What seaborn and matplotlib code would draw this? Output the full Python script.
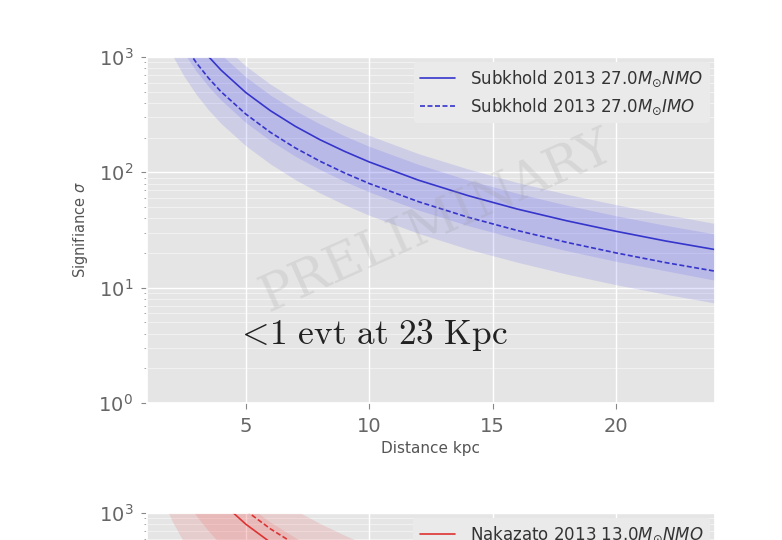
import matplotlib
matplotlib.use("Agg")
import matplotlib.pyplot as plt
import seaborn as sns
import pandas as pd
import numpy as np
from matplotlib.ticker import LogLocator, NullFormatter, FixedLocator

# ---- data ----
distance = [1.5, 2.0, 2.5, 3.0, 3.5, 4.0, 5.0, 6.0, 7.0, 8.0, 9.0, 10.0, 12.0, 14.0, 16.0, 18.0, 20.0, 22.0, 24.0]
subk_nmo = [5470, 3080, 1970, 1370, 1004, 769, 492, 342, 251, 192, 152, 123, 85.4, 62.8, 48.0, 38.0, 30.8, 25.4, 21.4]
subk_nmo_lo = [3000, 1690, 1080, 750, 552, 423, 270, 188, 138, 106, 83.5, 67.6, 47.0, 34.5, 26.4, 20.9, 16.9, 14.0, 11.6]
subk_nmo_hi = [9300, 5240, 3350, 2330, 1710, 1310, 836, 581, 427, 327, 258, 209, 145, 107, 81.6, 64.6, 52.4, 43.2, 36.0]
subk_imo = [3560, 2000, 1280, 890, 653, 500, 320, 222, 163, 125, 98.8, 80.0, 55.6, 40.8, 31.3, 24.7, 20.0, 16.5, 13.9]
subk_imo_lo = [1890, 1060, 680, 472, 346, 265, 170, 118, 86.5, 66.3, 52.4, 42.4, 29.5, 21.6, 16.6, 13.1, 10.6, 8.76, 7.36]
subk_imo_hi = [7480, 4200, 2690, 1870, 1370, 1050, 672, 467, 343, 263, 207, 168, 117, 85.7, 65.7, 51.9, 42.0, 34.7, 29.2]

naka_nmo = [8890, 5000, 3200, 2220, 1630, 1250, 800, 556, 408, 313, 247, 200, 139, 102, 78.1, 61.7, 50.0, 41.3, 34.7]
naka_nmo_lo = [1540, 865, 554, 384, 282, 216, 138, 96.1, 70.6, 54.1, 42.7, 34.6, 24.0, 17.7, 13.5, 10.7, 8.65, 7.15, 6.01]
naka_nmo_hi = [13300, 7500, 4800, 3330, 2450, 1880, 1200, 833, 612, 469, 370, 300, 208, 153, 117, 92.6, 75.0, 62.0, 52.1]
naka_imo = [11600, 6550, 4190, 2910, 2140, 1640, 1050, 728, 535, 409, 323, 262, 182, 134, 102, 80.9, 65.5, 54.1, 45.5]
naka_imo_lo = [3780, 2130, 1360, 944, 694, 531, 340, 236, 173, 133, 105, 85.0, 59.0, 43.4, 33.2, 26.2, 21.3, 17.6, 14.8]
naka_imo_hi = [23100, 13000, 8320, 5780, 4240, 3250, 2080, 1440, 1060, 813, 642, 520, 361, 265, 203, 160, 130, 107, 90.3]

xticks = [5, 10, 15, 20]
label_subk_nmo = r"Subkhold 2013 27.0$M_{\odot}NMO$"
label_subk_imo = r"Subkhold 2013 27.0$M_{\odot}IMO$"
label_naka_nmo = r"Nakazato 2013 13.0$M_{\odot}NMO$"
label_naka_imo = r"Nakazato 2013 13.0$M_{\odot}IMO$"

sns.set_theme(style="darkgrid", rc={
    "axes.facecolor": "#E5E5E5",
    "grid.color": "white",
    "xtick.color": "#666666",
    "ytick.color": "#666666",
    "xtick.bottom": True,
    "ytick.left": True,
})
plt.rcParams["font.family"] = ["DejaVu Sans"]
plt.rcParams["mathtext.fontset"] = "dejavusans"

fig = plt.figure(figsize=(7.82, 5.4), dpi=100)
W, H = 782, 540
ax1 = fig.add_axes([147 / W, 1 - 403 / H, 568 / W, 346 / H])
ax2 = fig.add_axes([147 / W, 1 - (513 + 346) / H, 568 / W, 346 / H])


def panel(ax, color, nmo, nmo_lo, nmo_hi, imo, imo_lo, imo_hi, lab_nmo, lab_imo, lw_col, visible_labels=True):
    ax.fill_between(distance, nmo_lo, nmo_hi, color=color, alpha=0.13, linewidth=0)
    ax.fill_between(distance, imo_lo, imo_hi, color=color, alpha=0.13, linewidth=0)
    df = pd.DataFrame({"d": distance * 2,
                       "s": nmo + imo,
                       "m": [lab_nmo] * len(distance) + [lab_imo] * len(distance)})
    sns.lineplot(data=df, x="d", y="s", style="m", ax=ax, color=lw_col,
                 dashes=[(None, None), (3, 1.5)], linewidth=1.2, legend=False, sort=False)
    ax.plot([], [], color=lw_col, lw=1.2, label=lab_nmo)
    ax.plot([], [], color=lw_col, lw=1.2, ls=(0, (3, 1.5)), label=lab_imo)
    ax.set_yscale("log")
    ax.set_xlim(1, 24)
    ax.set_ylim(1, 1000)
    ax.set_xticks(xticks)
    ax.yaxis.set_minor_locator(LogLocator(base=10, subs=np.arange(2, 10)))
    ax.yaxis.set_minor_formatter(NullFormatter())
    ax.grid(True, which="major", color="white", lw=1.0)
    ax.grid(True, which="minor", axis="y", color="white", lw=0.5, alpha=0.7)
    ax.tick_params(axis="both", which="major", labelsize=14, length=4, width=0.8, color="#888888", pad=6)
    ax.tick_params(axis="y", which="minor", length=2, width=0.6, color="#999999")
    if visible_labels:
        ax.set_xlabel("Distance kpc", fontsize=11, color="#555555", labelpad=4)
        ax.set_ylabel(r"Signifiance $\sigma$", fontsize=10.5, color="#555555", labelpad=6)
    else:
        ax.set_xlabel("")
        ax.set_ylabel("")
        ax.tick_params(axis="x", labelbottom=False)
        ax.yaxis.set_major_locator(FixedLocator([1000]))
    leg = ax.legend(loc="upper right", fontsize=12, frameon=True, facecolor="#EAEAEA",
                    edgecolor="none", framealpha=1.0, handlelength=2.1, borderaxespad=0.3,
                    labelspacing=0.45, handletextpad=0.9)
    for t in leg.get_texts():
        t.set_color("#333333")


panel(ax1, "#3333EE", subk_nmo, subk_nmo_lo, subk_nmo_hi, subk_imo, subk_imo_lo, subk_imo_hi,
      label_subk_nmo, label_subk_imo, "#3535CC")
panel(ax2, "#EE3333", naka_nmo, naka_nmo_lo, naka_nmo_hi, naka_imo, naka_imo_lo, naka_imo_hi,
      label_naka_nmo, label_naka_imo, "#DD3333", visible_labels=False)

ax1.text(4.55, 3.88, r"$<\!1\ \mathrm{evt\ at\ 23\ Kpc}$", fontsize=25.5, color="#222222",
         math_fontfamily="cm", va="center", ha="left")
ax1.text(0.51, 0.525, "PRELIMINARY", transform=ax1.transAxes, fontsize=36,
         family="DejaVu Serif", color="#999999", alpha=0.2, rotation=24,
         ha="center", va="center")

fig.savefig("out.png", dpi=100)
